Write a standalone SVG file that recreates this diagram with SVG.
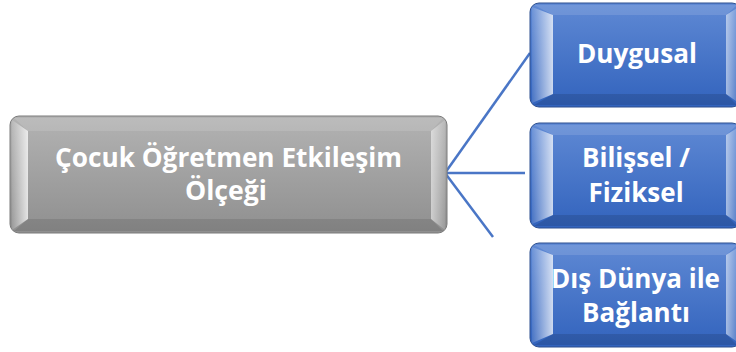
<svg xmlns="http://www.w3.org/2000/svg" width="736" height="352" viewBox="0 0 736 352">
<defs>
<linearGradient id="gGray" x1="0" y1="0" x2="0" y2="1">
<stop offset="0" stop-color="#b3b3b3"/><stop offset="1" stop-color="#8f8f8f"/>
</linearGradient>
<linearGradient id="gBlue" x1="0" y1="0" x2="0" y2="1">
<stop offset="0" stop-color="#5f89d4"/><stop offset="1" stop-color="#3263bd"/>
</linearGradient>
<linearGradient id="hlL" x1="0" y1="0" x2="1" y2="0">
<stop offset="0" stop-color="#ffffff" stop-opacity="0.1"/><stop offset="1" stop-color="#ffffff" stop-opacity="0.75"/>
</linearGradient>
<linearGradient id="hlR" x1="0" y1="0" x2="1" y2="0">
<stop offset="0" stop-color="#ffffff" stop-opacity="0.55"/><stop offset="1" stop-color="#ffffff" stop-opacity="0.1"/>
</linearGradient>
</defs>
<style>
.t{font-family:"Open Sans","Noto Sans","DejaVu Sans",sans-serif;font-weight:bold;fill:#ffffff;text-anchor:middle}
.c{stroke:#4a76c6;stroke-width:2.5;fill:none}
.ob{stroke:#7a7a7a;stroke-width:1}
.obb{stroke:#2d4f8f;stroke-width:1}
</style>
<g id="connectors">
<line class="c" x1="445" y1="173" x2="530" y2="53"/>
<line class="c" x1="445" y1="173" x2="525" y2="173"/>
<line class="c" x1="445" y1="173" x2="493" y2="237"/>
</g>
<g id="root">
<rect x="10" y="116" width="437" height="117" rx="9" fill="url(#gGray)" class="ob"/>
<polygon points="12,120 28,131 28,219 12,230" fill="url(#hlL)"/>
<polygon points="445,120 431,131 431,219 445,230" fill="url(#hlR)"/>
<polygon points="14,118 443,118 431,131 28,131" fill="#ffffff" fill-opacity="0.12"/>
<polygon points="14,231 443,231 431,219 28,219" fill="#000000" fill-opacity="0.1"/>
<text class="t" x="228.5" y="167" font-size="26" textLength="347" lengthAdjust="spacingAndGlyphs">Çocuk Öğretmen Etkileşim</text>
<text class="t" x="226" y="200" font-size="26" textLength="82" lengthAdjust="spacingAndGlyphs">Ölçeği</text>
</g>
<g id="n1">
<rect x="530" y="3" width="211" height="104" rx="9" fill="url(#gBlue)" class="obb"/>
<polygon points="532,7 553,15 553,94 532,103" fill="url(#hlL)"/>
<polygon points="739,7 726,15 726,94 739,103" fill="url(#hlR)"/>
<polygon points="534,5 737,5 726,15 553,15" fill="#ffffff" fill-opacity="0.12"/>
<polygon points="534,105 737,105 726,94 553,94" fill="#000000" fill-opacity="0.12"/>
<text class="t" x="637" y="63" font-size="26" textLength="120" lengthAdjust="spacingAndGlyphs">Duygusal</text>
</g>
<g id="n2">
<rect x="530" y="123" width="211" height="105" rx="9" fill="url(#gBlue)" class="obb"/>
<polygon points="532,127 553,135 553,215 532,224" fill="url(#hlL)"/>
<polygon points="739,127 726,135 726,215 739,224" fill="url(#hlR)"/>
<polygon points="534,125 737,125 726,135 553,135" fill="#ffffff" fill-opacity="0.12"/>
<polygon points="534,226 737,226 726,215 553,215" fill="#000000" fill-opacity="0.12"/>
<text class="t" x="636" y="167" font-size="26">Bilişsel /</text>
<text class="t" x="636" y="202" font-size="26">Fiziksel</text>
</g>
<g id="n3">
<rect x="530" y="243" width="211" height="104" rx="9" fill="url(#gBlue)" class="obb"/>
<polygon points="532,247 553,255 553,334 532,343" fill="url(#hlL)"/>
<polygon points="739,247 726,255 726,334 739,343" fill="url(#hlR)"/>
<polygon points="534,245 737,245 726,255 553,255" fill="#ffffff" fill-opacity="0.12"/>
<polygon points="534,345 737,345 726,334 553,334" fill="#000000" fill-opacity="0.12"/>
<text class="t" x="635.5" y="288" font-size="26" textLength="169" lengthAdjust="spacingAndGlyphs">Dış Dünya ile</text>
<text class="t" x="636" y="322" font-size="26">Bağlantı</text>
</g>
</svg>
